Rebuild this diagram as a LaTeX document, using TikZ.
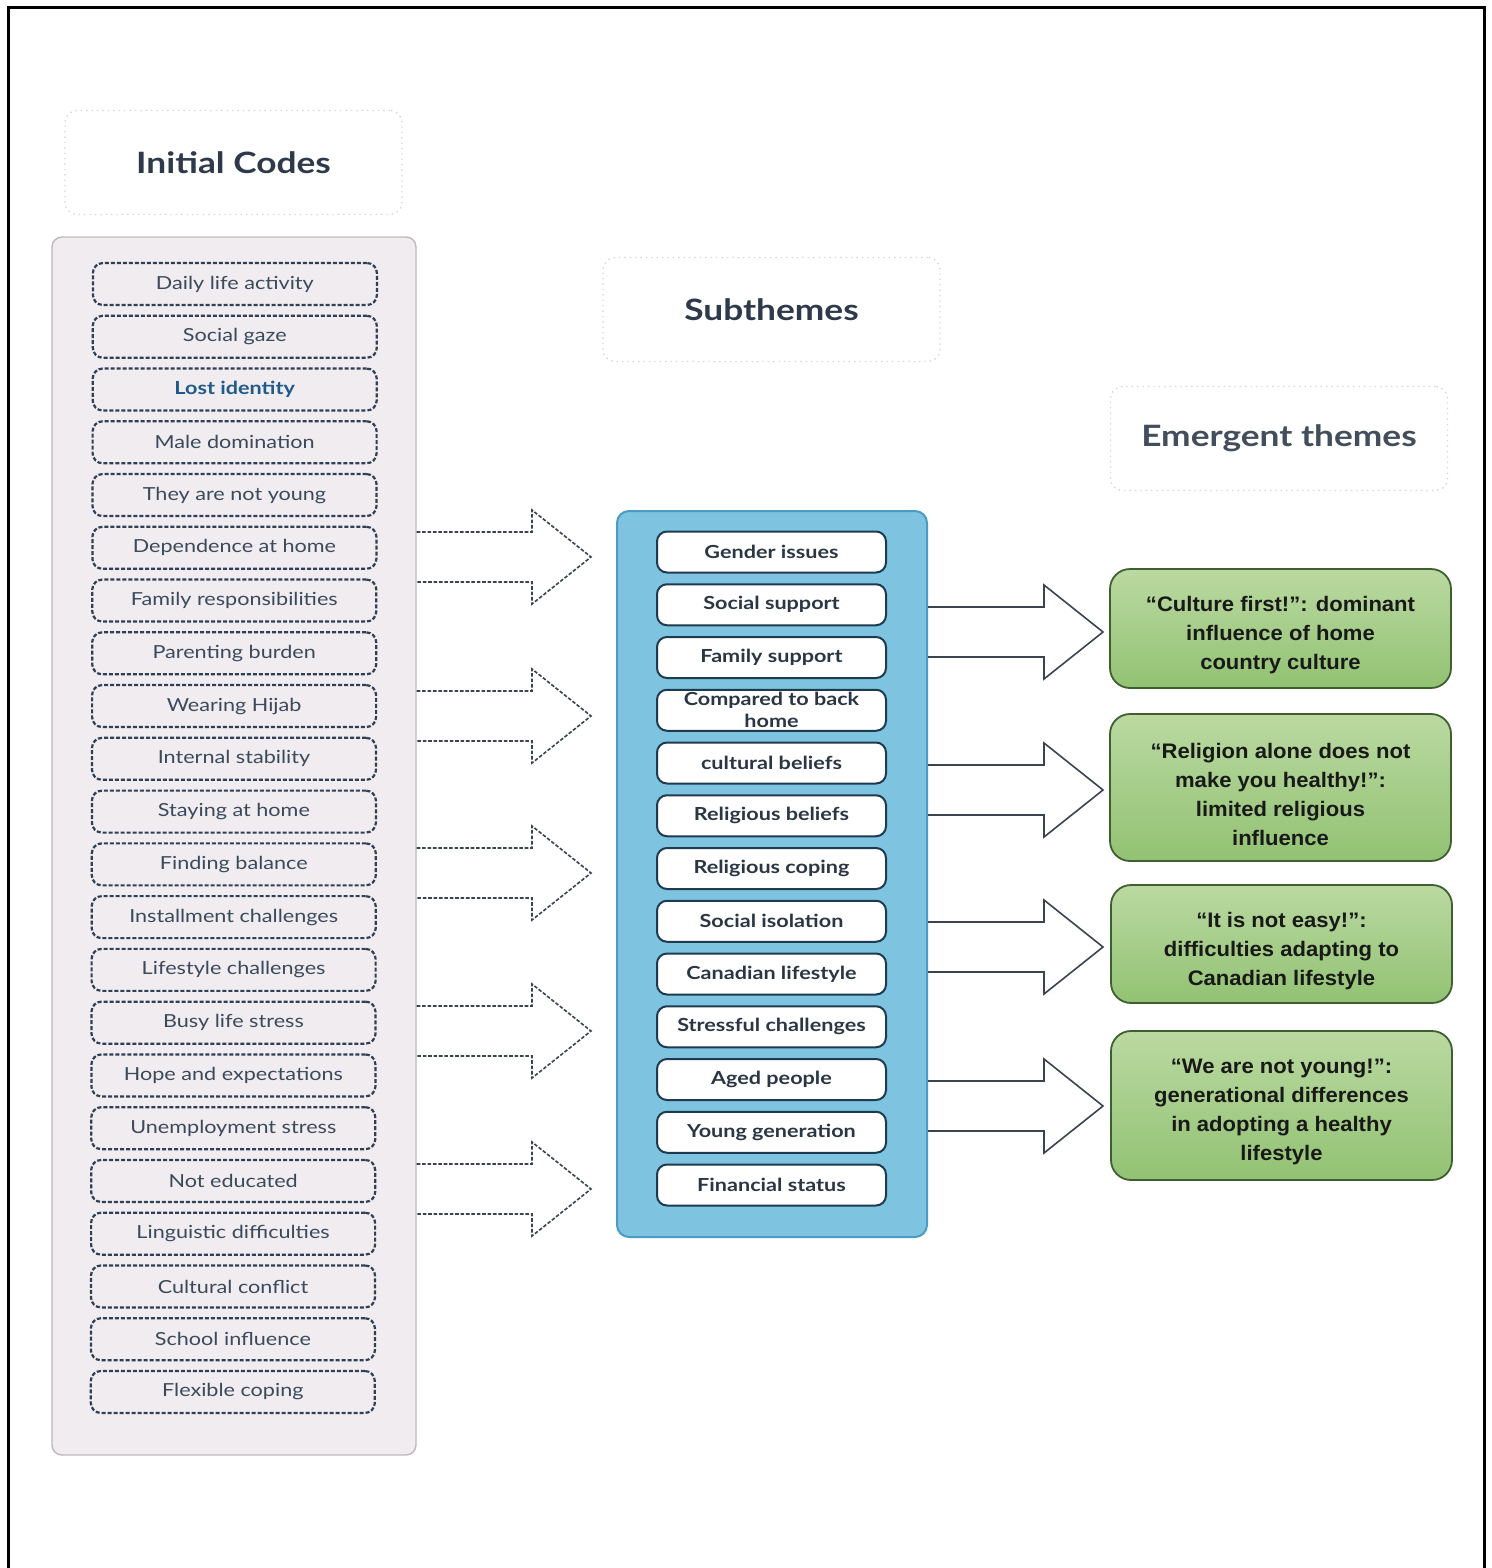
\documentclass[tikz,border=0pt]{standalone}
\usepackage{fontspec}
\setmainfont{Lato}
\newfontfamily\codefont{Lato}[FakeStretch=1.2]
\newfontfamily\themefont{Liberation Sans}[FakeStretch=1.05]
\usetikzlibrary{positioning}

\definecolor{hdrline}{HTML}{D6D6DA}
\definecolor{hdrtext}{HTML}{2E3A4B}
\definecolor{panelfill}{HTML}{F0ECEF}
\definecolor{panelline}{HTML}{BDB8BC}
\definecolor{codeline}{HTML}{2F3F55}
\definecolor{codetext}{HTML}{3A4A5C}
\definecolor{lostblue}{HTML}{1F5A8A}
\definecolor{subfill}{HTML}{7EC4E1}
\definecolor{subline}{HTML}{4A9BC5}
\definecolor{subboxline}{HTML}{1E3A4F}
\definecolor{subtext}{HTML}{2A3644}
\definecolor{themetop}{HTML}{BAD9A1}
\definecolor{themebot}{HTML}{92C273}
\definecolor{themeline}{HTML}{3F5F30}
\definecolor{arrowline}{HTML}{3A4450}

\begin{document}
\begin{tikzpicture}[
  x=0.5pt, y=-0.5pt,
  hdr/.style={draw=hdrline, dotted, line width=0.7pt, rounded corners=6pt,
              minimum width=168.5pt, minimum height=52pt, text=hdrtext,
              font=\codefont\bfseries\fontsize{14.7}{17}\selectfont},
  codepanel/.style={draw=panelline, fill=panelfill, rounded corners=5pt, line width=0.7pt,
                    minimum width=182pt, minimum height=609pt},
  codebox/.style={draw=codeline, dash pattern=on 2pt off 1pt, line width=1.1pt,
                  rounded corners=5pt, minimum width=142pt, minimum height=21pt, inner sep=0pt,
                  font=\codefont\fontsize{9}{10}\selectfont, text=codetext},
  subpanel/.style={draw=subline, fill=subfill, rounded corners=6pt, line width=1pt,
                   minimum width=155pt, minimum height=363pt},
  subbox/.style={draw=subboxline, fill=white, line width=1pt, rounded corners=5pt,
                 minimum width=114.5pt, minimum height=20.5pt, inner sep=0pt, align=center,
                 font=\codefont\bfseries\fontsize{9}{11}\selectfont, text=subtext},
  theme/.style={draw=themeline, top color=themetop, bottom color=themebot, line width=0.9pt,
                rounded corners=10pt, minimum width=170.5pt},
  themetext/.style={align=center, font=\themefont\bfseries\fontsize{10.5}{14.5}\selectfont,
                    text=black!90},
  dasharrow/.style={draw=arrowline, dash pattern=on 1.8pt off 0.9pt, line width=0.8pt},
  solidarrow/.style={draw=arrowline, line width=0.8pt},
]
\useasboundingbox (0,0) rectangle (1492,1568);

% outer frame
\draw[line width=1.5pt] (8,1568) -- (8,8) -- (1484,8) -- (1484,1568);

% ======================= headers =======================
\node[hdr] (hcodes) at (233.5,162.5) {Initial Codes};
\node[hdr] (hsub) at (771.5,309.5) {Subthemes};
\node[hdr, text=hdrtext!90] (htheme) at (1279,438.5) {Emergent themes};

% ======================= initial codes =======================
\node[codepanel] (codes) at (234,846) {};
\foreach \txt [count=\i] in {Daily life activity, Social gaze, {\textcolor{lostblue}{\bfseries Lost identity}},
    Male domination, They are not young, Dependence at home, Family responsibilities,
    Parenting burden, Wearing Hijab, Internal stability, Staying at home, Finding balance,
    Installment challenges, Lifestyle challenges, Busy life stress, Hope and expectations,
    Unemployment stress, Not educated, Linguistic difficulties, Cultural conflict,
    School influence, Flexible coping}
  \node[codebox] (c\i) at ({235-0.1*\i}, {284+52.76*(\i-1)}) {\txt};

% ======================= subthemes =======================
\node[subpanel] (subs) at (772,874) {};
\foreach \txt [count=\i] in {Gender issues, Social support, Family support,
    {Compared to back\\home}, cultural beliefs, Religious beliefs, Religious coping,
    Social isolation, Canadian lifestyle, Stressful challenges, Aged people,
    Young generation, Financial status}
  \node[subbox] (s\i) at (771.5, {552+52.75*(\i-1)}) {\txt};

% ======================= emergent themes =======================
\node[theme, minimum height=59.5pt] (t1) at (1280.5,628.5) {};
\node[theme, minimum height=73.5pt] (t2) at (1280.5,787.5) {};
\node[theme, minimum height=59pt]   (t3) at (1281.5,944) {};
\node[theme, minimum height=74.5pt] (t4) at (1281.5,1105.5) {};
\node[themetext] (l1) at ([yshift=-3.3pt]t1.center)
  {“Culture first!”: dominant\\influence of home\\country culture};
\node[themetext] (l2) at ([yshift=-3.3pt]t2.center)
  {“Religion alone does not\\make you healthy!”:\\limited religious\\influence};
\node[themetext] (l3) at ([yshift=-3.3pt]t3.center)
  {“It is not easy!”:\\difficulties adapting to\\Canadian lifestyle};
\node[themetext] (l4) at ([yshift=-3.3pt]t4.center)
  {“We are not young!”:\\generational differences\\in adopting a healthy\\lifestyle};

% block arrows: codes -> subthemes (dashed), subthemes -> themes (solid)
\foreach \y in {557,716,873,1031,1189}
  \draw[dasharrow] (codes.east |- 0,\y-25) -- (532,\y-25) -- (532,\y-47) -- (591,\y)
    -- (532,\y+47) -- (532,\y+25) -- (codes.east |- 0,\y+25);
\foreach \y/\t in {632/t1,790/t2,947/t3,1106/t4}
  \draw[solidarrow] (subs.east |- 0,\y-25) -- (1044,\y-25) -- (1044,\y-47) -- (1103,\y)
    -- (1044,\y+47) -- (1044,\y+25) -- (subs.east |- 0,\y+25);
\end{tikzpicture}
\end{document}
